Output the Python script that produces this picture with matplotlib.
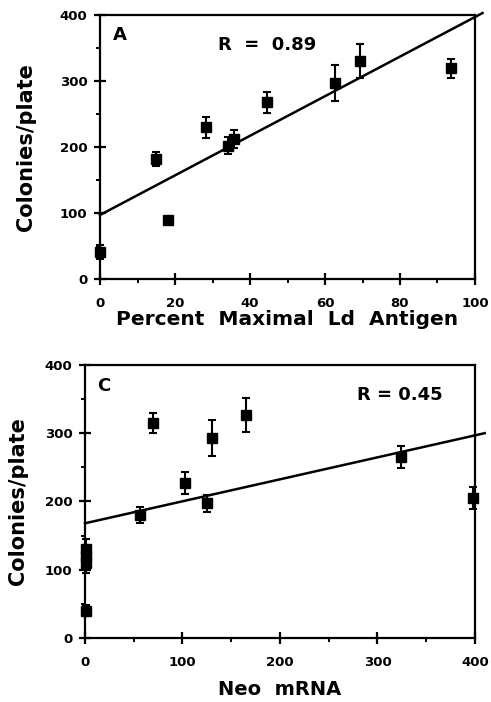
import matplotlib
matplotlib.use("Agg")
from matplotlib import pyplot as plt
from matplotlib.ticker import MultipleLocator

plt.rcParams['font.family'] = ['DejaVu Sans']
plt.rcParams['font.weight'] = 'bold'

# panel A
ld_x = [0, 14.8, 18.2, 28.2, 34.2, 35.6, 44.4, 62.7, 69.3, 93.5]
ld_y = [41, 182, 89, 230, 202, 212, 268, 297, 330, 319]
ld_err = [10, 11, 0, 16, 13, 14, 16, 27, 26, 15]
ld_fit_x = [0, 102]
ld_fit_y = [97, 403]

# panel C
neo_x = [1, 1, 1, 1, 56.4, 69.4, 102.6, 124.8, 130, 164.8, 323.8, 397.6]
neo_y = [40, 110, 120, 130, 180, 315, 227, 197, 293, 327, 265, 205]
neo_err = [8, 15, 15, 15, 12, 15, 16, 12, 27, 25, 16, 16]
neo_fit_x = [0, 410]
neo_fit_y = [168, 300]

fig = plt.figure(figsize=(4.91, 7.02), dpi=100)
ax1 = fig.add_axes([0.2037, 0.6026, 0.7637, 0.376])
ax2 = fig.add_axes([0.1731, 0.0912, 0.7943, 0.389])


def style(ax, xmax, xmaj, ypad):
    ax.set_ylim(0, 400)
    ax.set_xlim(0, xmax)
    ax.yaxis.set_major_locator(MultipleLocator(100))
    ax.yaxis.set_minor_locator(MultipleLocator(50))
    ax.xaxis.set_major_locator(MultipleLocator(xmaj))
    ax.xaxis.set_minor_locator(MultipleLocator(xmaj / 2))
    for s in ax.spines.values():
        s.set_linewidth(1.6)
    ax.tick_params(which='major', direction='inout', length=8, width=1.6,
                   labelsize=9.5)
    ax.tick_params(axis='x', which='major', pad=9)
    ax.tick_params(axis='y', which='major', pad=5)
    ax.tick_params(which='minor', direction='out', length=3, width=1.4)
    for lab in ax.get_xticklabels() + ax.get_yticklabels():
        lab.set_fontweight('bold')
    ax.set_ylabel("Colonies/plate", fontsize=15, fontweight='heavy', labelpad=ypad)


style(ax1, 100, 20, 17)
ax1.errorbar(ld_x, ld_y, yerr=ld_err, fmt='s', color='black', ms=6.5,
             elinewidth=1.5, capsize=3, capthick=1.5, clip_on=False, zorder=3)
ax1.plot(ld_fit_x, ld_fit_y, color='black', lw=1.8, clip_on=False)
ax1.set_xlabel("Percent  Maximal  Ld  Antigen", fontsize=14.5, fontweight='heavy',
               labelpad=0)
ax1.text(3.5, 362, "A", fontsize=13, fontweight='heavy')
ax1.text(31.5, 354, "R  =  0.89", fontsize=13, fontweight='heavy', va='center')

style(ax2, 400, 100, 12)
ax2.errorbar(neo_x, neo_y, yerr=neo_err, fmt='s', color='black', ms=6.5,
             elinewidth=1.5, capsize=3, capthick=1.5, clip_on=False, zorder=3)
ax2.plot(neo_fit_x, neo_fit_y, color='black', lw=1.8, clip_on=False)
ax2.set_xlabel("Neo  mRNA", fontsize=14, fontweight='heavy', labelpad=8)
ax2.text(12, 362, "C", fontsize=13, fontweight='heavy')
ax2.text(279, 356, "R = 0.45", fontsize=13, fontweight='heavy', va='center')

fig.savefig("out.png", dpi=100)
